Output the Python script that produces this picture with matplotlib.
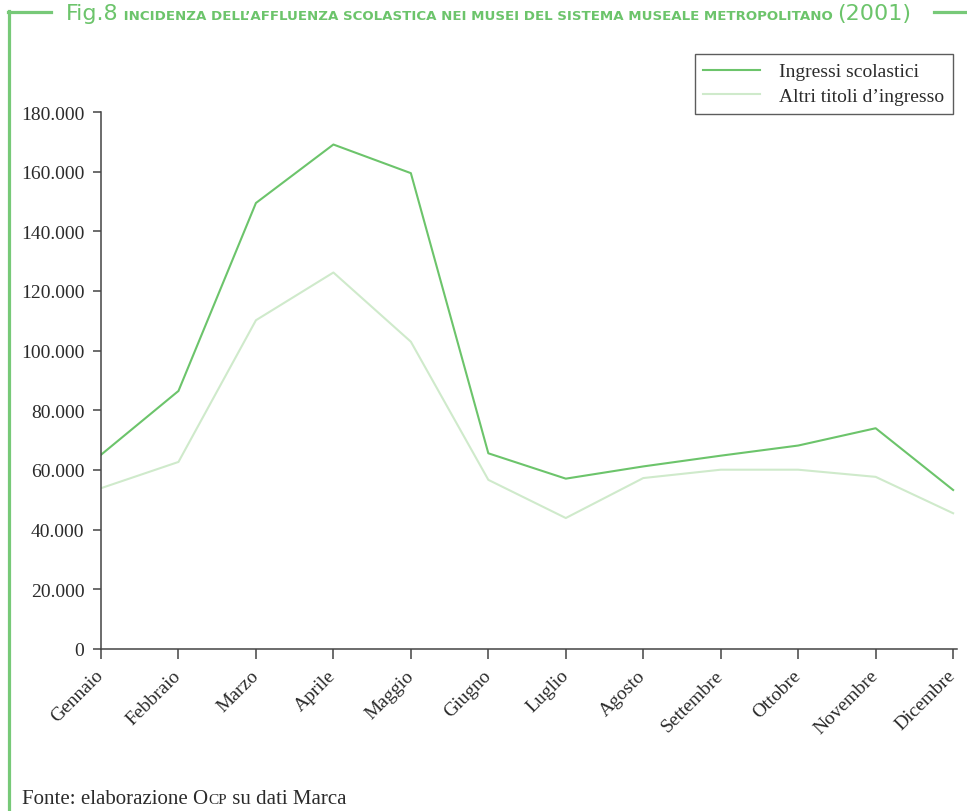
import matplotlib.pyplot as plt
import numpy as np
from matplotlib.lines import Line2D
from matplotlib.ticker import FuncFormatter


MONTHS = ["Gennaio", "Febbraio", "Marzo", "Aprile", "Maggio", "Giugno",
          "Luglio", "Agosto", "Settembre", "Ottobre", "Novembre", "Dicembre"]
INGRESSI_SCOLASTICI = [65100, 86500, 149500, 169100, 159500, 65600,
                       57100, 61200, 64800, 68200, 74000, 53300]
ALTRI_TITOLI = [53900, 62700, 110200, 126200, 103000, 56700,
                43900, 57300, 60100, 60100, 57700, 45500]
Y_TICKS = [0, 20000, 40000, 60000, 80000, 100000, 120000, 140000, 160000, 180000]

GREEN = "#6cc46b"
LIGHT_GREEN = "#cfeacb"
FRAME_GREEN = "#77c978"
TEXT = "#2b2b2b"
SERIF = ["Liberation Serif", "DejaVu Serif"]
SANS = ["DejaVu Sans"]

W, H = 967, 812


def fx(px):
    return px / W


def fy(py):
    return 1 - py / H


def thousands(value, _):
    return f"{int(value):,}".replace(",", ".")


def main():
    plt.rcParams["font.family"] = SERIF
    fig = plt.figure(figsize=(W / 100, H / 100), dpi=100)
    ax = fig.add_axes([fx(101), fy(650), fx(957) - fx(101), fy(113) - fy(650)])

    x = np.arange(len(MONTHS))
    ax.plot(x, INGRESSI_SCOLASTICI, color=GREEN, linewidth=1.5, label="Ingressi scolastici")
    ax.plot(x, ALTRI_TITOLI, color=LIGHT_GREEN, linewidth=1.5, label="Altri titoli d\u2019ingresso")

    ax.set_xlim(0, 11.05)
    ax.set_ylim(0, 180000)
    ax.set_yticks(Y_TICKS)
    ax.yaxis.set_major_formatter(FuncFormatter(thousands))
    ax.set_xticks(x)
    ax.set_xticklabels(MONTHS, rotation=45, ha="right", va="center", rotation_mode="anchor")

    for side in ["top", "right"]:
        ax.spines[side].set_visible(False)
    for side in ["left", "bottom"]:
        ax.spines[side].set_color("#444444")
        ax.spines[side].set_linewidth(1.1)
    ax.tick_params(axis="both", colors="#444444", labelcolor=TEXT, labelsize=14,
                   length=6, width=1.1)
    ax.tick_params(axis="y", pad=6)
    ax.tick_params(axis="x", length=7, pad=10)

    legend = ax.legend(loc="upper right", bbox_to_anchor=(fx(953), fy(55)),
                       bbox_transform=fig.transFigure, fontsize=14, frameon=True,
                       fancybox=False, edgecolor="#333333", handlelength=2.9,
                       handletextpad=1.0, labelspacing=0.35, borderaxespad=0,
                       borderpad=0.45, labelcolor=TEXT)
    legend.get_frame().set_linewidth(1.0)

    # green frame round the figure
    fig.add_artist(Line2D([fx(8), fx(51)], [fy(13), fy(13)], color=FRAME_GREEN, linewidth=2.3))
    fig.add_artist(Line2D([fx(934), fx(967)], [fy(13), fy(13)], color=FRAME_GREEN, linewidth=2.3))
    fig.add_artist(Line2D([fx(9), fx(9)], [fy(12), fy(812)], color=FRAME_GREEN, linewidth=2.3))

    # title, built from pieces of different size on one baseline
    title_y = fy(20)
    fig_label = fig.text(fx(66), title_y, "Fig.8", family=SANS, fontsize=16,
                         color=GREEN, va="baseline")
    title_mid = ax.annotate(" INCIDENZA DELL\u2019AFFLUENZA SCOLASTICA NEI MUSEI DEL SISTEMA "
                            "MUSEALE METROPOLITANO ",
                            xy=(1, title_y), xycoords=(fig_label, "figure fraction"),
                            va="baseline", family=SANS, fontsize=9.6, fontweight="bold",
                            color=GREEN, annotation_clip=False)
    ax.annotate("(2001)", xy=(1, title_y), xycoords=(title_mid, "figure fraction"),
                va="baseline", family=SANS, fontsize=16, color=GREEN, annotation_clip=False)

    # source note with small caps for OCP
    source_y = fy(804)
    source = fig.text(fx(22), source_y, "Fonte: elaborazione O", fontsize=15,
                      color=TEXT, va="baseline")
    small_caps = ax.annotate("CP", xy=(1, source_y), xycoords=(source, "figure fraction"),
                             va="baseline", fontsize=11, color=TEXT, annotation_clip=False)
    ax.annotate(" su dati Marca", xy=(1, source_y), xycoords=(small_caps, "figure fraction"),
                va="baseline", fontsize=15, color=TEXT, annotation_clip=False)

    fig.savefig("out.png", dpi=100)
    plt.close(fig)


if __name__ == "__main__":
    main()
